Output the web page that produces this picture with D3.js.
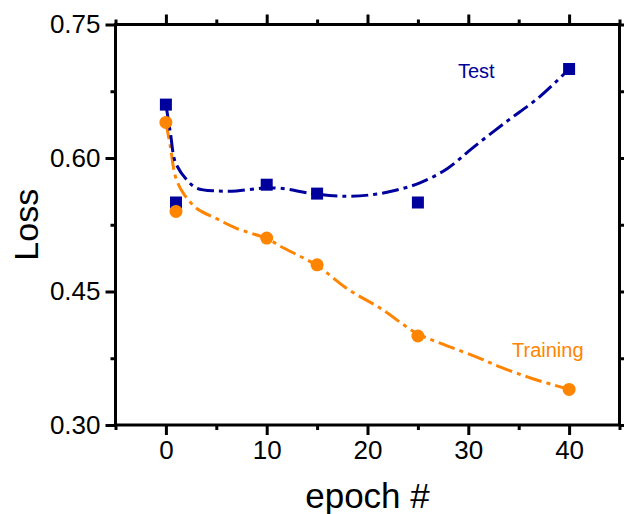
<!DOCTYPE html>
<html>
<head>
<meta charset="utf-8">
<script src="https://cdn.jsdelivr.net/npm/d3@7"></script>
<style>
  body { margin: 0; background: #fff; }
  svg text { font-family: "Liberation Sans", Arial, sans-serif; }
</style>
</head>
<body>
<script>
// measured points
var epochs = [0, 1, 10, 15, 25, 40];
var testLoss = [0.66, 0.55, 0.57, 0.56, 0.55, 0.70];
var trainLoss = [0.64, 0.54, 0.51, 0.48, 0.40, 0.34];

// fitted curves
var testFitX = [0, 0.45, 0.95, 2.1, 3.1, 5, 7, 9.4, 11.3, 14.6, 18, 20.6, 22.9, 25.2, 27.9, 30.5, 33.8, 37.1, 40];
var testFitY = [0.66, 0.628, 0.595, 0.575, 0.566, 0.563, 0.563, 0.566, 0.566, 0.560, 0.557, 0.559, 0.564, 0.572, 0.588, 0.612, 0.641, 0.669, 0.70];
var trainFitX = [0, 0.45, 0.95, 1.75, 3.1, 5, 7, 10, 11.5, 15, 18, 21.3, 24.9, 27.9, 30.9, 33.2, 36.4, 40];
var trainFitY = [0.64, 0.6125, 0.579, 0.560, 0.543, 0.532, 0.521, 0.5095, 0.50, 0.479, 0.453, 0.431, 0.403, 0.389, 0.376, 0.365, 0.352, 0.34];

var xMajor = [0, 10, 20, 30, 40];
var xMinor = [-5, 5, 15, 25, 35, 45];
var yMajor = [0.30, 0.45, 0.60, 0.75];
var yMinor = [0.375, 0.525, 0.675];

var blue = "#00009c", orange = "#ff8400";

var W = 624, H = 514;
var x = d3.scaleLinear().domain([-5, 45]).range([115.5, 619.5]);
var y = d3.scaleLinear().domain([0.30, 0.75]).range([425, 24.5]);

var svg = d3.select("body").append("svg")
    .attr("width", W).attr("height", H);

// frame axes
function styleAxis(g) {
  g.selectAll("path, line").attr("stroke", "#000").attr("stroke-width", 3);
  g.selectAll("text").attr("fill", "#000").style("font-size", "26px");
}

var bottomMaj = svg.append("g").attr("transform", "translate(0," + y(0.30) + ")")
    .call(d3.axisBottom(x).tickValues(xMajor).tickSize(10).tickSizeOuter(0).tickPadding(6).tickFormat(d3.format("d")));
bottomMaj.select(".domain").remove();
styleAxis(bottomMaj);
bottomMaj.selectAll("text").attr("dy", "0.71em");
var bottomMin = svg.append("g").attr("transform", "translate(0," + y(0.30) + ")")
    .call(d3.axisBottom(x).tickValues(xMinor).tickSize(5).tickFormat(""));
bottomMin.select(".domain").remove();
styleAxis(bottomMin);

var topMaj = svg.append("g").attr("transform", "translate(0," + y(0.75) + ")")
    .call(d3.axisTop(x).tickValues(xMajor).tickSize(10).tickFormat(""));
topMaj.select(".domain").remove();
styleAxis(topMaj);
var topMin = svg.append("g").attr("transform", "translate(0," + y(0.75) + ")")
    .call(d3.axisTop(x).tickValues(xMinor).tickSize(5).tickFormat(""));
topMin.select(".domain").remove();
styleAxis(topMin);

var leftMaj = svg.append("g").attr("transform", "translate(" + x(-5) + ",0)")
    .call(d3.axisLeft(y).tickValues(yMajor).tickSize(10).tickPadding(5).tickFormat(d3.format(".2f")));
leftMaj.select(".domain").remove();
styleAxis(leftMaj);
var leftMin = svg.append("g").attr("transform", "translate(" + x(-5) + ",0)")
    .call(d3.axisLeft(y).tickValues(yMinor).tickSize(5).tickFormat(""));
leftMin.select(".domain").remove();
styleAxis(leftMin);

var rightMaj = svg.append("g").attr("transform", "translate(" + x(45) + ",0)")
    .call(d3.axisRight(y).tickValues(yMajor).tickSize(10).tickFormat(""));
rightMaj.select(".domain").remove();
styleAxis(rightMaj);
var rightMin = svg.append("g").attr("transform", "translate(" + x(45) + ",0)")
    .call(d3.axisRight(y).tickValues(yMinor).tickSize(5).tickFormat(""));
rightMin.select(".domain").remove();
styleAxis(rightMin);

svg.append("rect")
    .attr("x", x(-5)).attr("y", y(0.75))
    .attr("width", x(45) - x(-5)).attr("height", y(0.30) - y(0.75))
    .attr("fill", "none").attr("stroke", "#000").attr("stroke-width", 3);

// fit lines
var line = d3.line()
    .x(function(d) { return x(d[0]); })
    .y(function(d) { return y(d[1]); })
    .curve(d3.curveCatmullRom);

svg.append("path")
    .datum(d3.zip(trainFitX, trainFitY))
    .attr("d", line)
    .attr("fill", "none").attr("stroke", orange).attr("stroke-width", 3)
    .attr("stroke-dasharray", "17,5,4,5");

svg.append("path")
    .datum(d3.zip(testFitX, testFitY))
    .attr("d", line)
    .attr("fill", "none").attr("stroke", blue).attr("stroke-width", 3)
    .attr("stroke-dasharray", "17,5,4,5");

// markers
svg.selectAll(".sq")
    .data(d3.zip(epochs, testLoss))
  .enter().append("rect")
    .attr("class", "sq")
    .attr("x", function(d) { return x(d[0]) - 6; })
    .attr("y", function(d) { return y(d[1]) - 6; })
    .attr("width", 12).attr("height", 12)
    .attr("fill", blue);

svg.selectAll(".dot")
    .data(d3.zip(epochs, trainLoss))
  .enter().append("circle")
    .attr("class", "dot")
    .attr("cx", function(d) { return x(d[0]); })
    .attr("cy", function(d) { return y(d[1]); })
    .attr("r", 6.5)
    .attr("fill", orange);

// labels
svg.append("text").attr("x", 458).attr("y", 78)
    .style("font-size", "20px").attr("fill", blue).text("Test");
svg.append("text").attr("x", 512).attr("y", 357)
    .style("font-size", "20px").attr("fill", orange).text("Training");

svg.append("text")
    .attr("x", (x(-5) + x(45)) / 2).attr("y", 508)
    .attr("text-anchor", "middle")
    .style("font-size", "35px").text("epoch #");

svg.append("text")
    .attr("transform", "translate(38," + ((y(0.30) + y(0.75)) / 2) + ") rotate(-90)")
    .attr("text-anchor", "middle")
    .style("font-size", "34px").text("Loss");
</script>
</body>
</html>
